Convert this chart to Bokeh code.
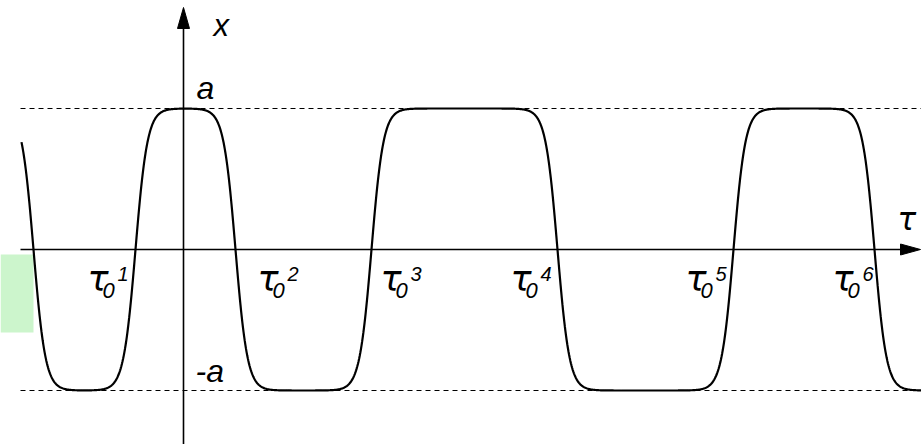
import numpy as np
from bokeh.plotting import figure
from bokeh.models import Range1d
from bokeh.core.properties import value
from bokeh.embed import file_html
from bokeh.resources import INLINE

# ---- data ----
amplitude = 1.0                                   # a
kink_width = 0.24                                 # transition width in tau units
tau_crossings = [-3.0, -0.96, 1.04, 3.76, 7.48, 11.0, 13.82]   # zero crossings
label_crossing_index = [1, 2, 3, 4, 5, 6]         # tau_0^n labels
label_sups = ["1", "2", "3", "4", "5", "6"]
tau_start, tau_end = -3.24, 14.9

# ---- pixel <-> data helpers (layout) ----
X0_PX, Y0_PX, PX_T, PX_A = 183.0, 249.0, 50.0, 141.0
W, H = 921, 444
def tx(px): return (px - X0_PX) / PX_T
def ty(py): return (Y0_PX - py) / PX_A
def dtx(dpx): return dpx / PX_T
def dty(dpx): return dpx / PX_A

p = figure(width=W, height=H, x_range=Range1d(tx(0), tx(W)),
           y_range=Range1d(ty(H), ty(0)), x_axis_type=None, y_axis_type=None,
           toolbar_location=None, output_backend="svg", min_border=0,
           min_border_left=0, min_border_right=0, min_border_top=0, min_border_bottom=0)
p.outline_line_color = None
p.background_fill_color = "white"

# green box fragment at left
p.quad(left=[tx(0)], right=[tx(33)], top=[ty(254)], bottom=[ty(332)],
       fill_color="#ccf5cc", line_color=None)

# dashed level lines at +a and -a
p.segment(x0=[tx(20), tx(20)], x1=[tx(W), tx(W)], y0=[amplitude, -amplitude],
          y1=[amplitude, -amplitude], line_color="black", line_width=1.2, line_dash="5 4")

# axes
p.segment(x0=[tx(20)], x1=[tx(903)], y0=[0], y1=[0], line_color="black", line_width=1.6)
p.segment(x0=[0], x1=[0], y0=[ty(H)], y1=[ty(25)], line_color="black", line_width=1.6)
# arrow heads
p.patch(x=[tx(920), tx(900), tx(900)], y=[0, dty(5.5), dty(-5.5)], fill_color="black", line_color="black")
p.patch(x=[0, dtx(-6), dtx(6)], y=[ty(7), ty(28), ty(28)], fill_color="black", line_color="black")

# kink-chain curve
tau = np.linspace(tau_start, tau_end, 1500)
prof = -amplitude * np.prod([np.tanh((tau - c) / kink_width) for c in tau_crossings], axis=0)
p.line(tau, prof, line_color="black", line_width=2.2)

font = value("Liberation Sans")
# axis letters
p.text(x=[tx(213)], y=[ty(25)], text=["x"], text_font=font, text_font_size="31px",
       text_font_style="italic", text_baseline="alphabetic")
p.text(x=[tx(196)], y=[ty(87)], text=["a"], text_font=font, text_font_size="32px",
       text_font_style="italic", text_baseline="alphabetic")
p.text(x=[tx(195)], y=[ty(370)], text=["-a"], text_font=font, text_font_size="32px",
       text_font_style="italic", text_baseline="alphabetic")
p.text(x=[tx(897)], y=[ty(218)], text=["τ"], text_font=value("DejaVu Sans"), text_font_size="31px",
       text_font_style="italic", text_baseline="alphabetic")

# tau_0^n labels
label_dx_px = [-48, 22, 9, -47, -48, -42]
lx = [tau_crossings[i] + dtx(d) for i, d in zip(label_crossing_index, label_dx_px)]
n = len(lx)
p.text(x=lx, y=[ty(278)] * n, text=["τ"] * n, text_font=value("DejaVu Sans"),
       text_font_size="35px", text_font_style="italic", text_baseline="alphabetic")
p.text(x=[v + dtx(15) for v in lx], y=[ty(290)] * n, text=["0"] * n, text_font=font,
       text_font_size="22px", text_font_style="italic", text_baseline="alphabetic")
p.text(x=[v + dtx(30) for v in lx], y=[ty(273)] * n, text=label_sups, text_font=font,
       text_font_size="20px", text_font_style="italic", text_baseline="alphabetic")

open("out.html", "w").write(file_html(p, INLINE))
